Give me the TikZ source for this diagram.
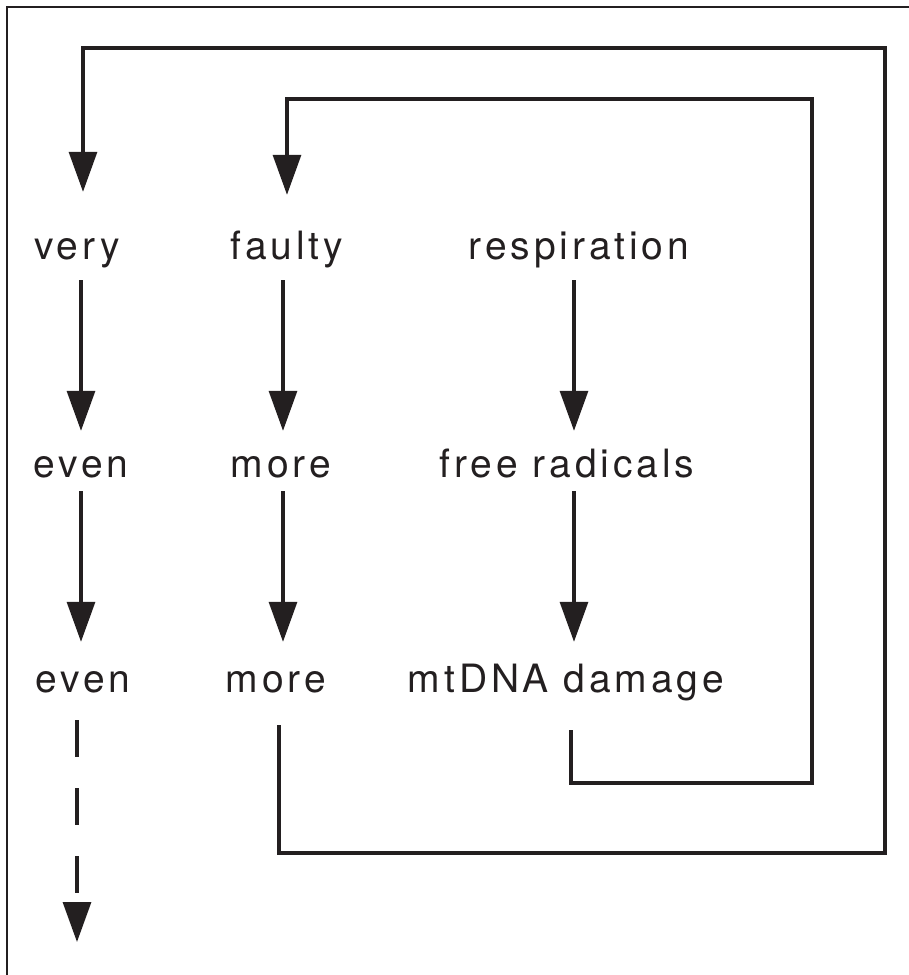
\documentclass[tikz,border=0pt]{standalone}
\usepackage{fontspec}
\setmainfont{TeX Gyre Heros}[LetterSpace=10]
\usetikzlibrary{arrows.meta}
\definecolor{ink}{HTML}{231F20}
\begin{document}
\begin{tikzpicture}[x=1pt,y=-1pt,
  lbl/.style={anchor=base,inner sep=0pt,text height=28pt,text depth=9pt,
    font=\fontsize{39}{44}\selectfont,text=ink},
  tipstyle/.style={-{Triangle[length=40pt,width=28pt]}},
  heavy/.style={draw=ink,line width=3.2pt},
  arrone/.style={heavy,tipstyle,shorten <=12pt,shorten >=18pt},
  arrtwo/.style={heavy,tipstyle,shorten <=5pt,shorten >=22pt},
  frame/.style={draw=ink,line width=2pt}]
\useasboundingbox (0,0) rectangle (909,975);
% frame (left and top edges only)
\draw[frame] (7,975) -- (7,7) -- (909,7);
% column coordinates
\coordinate (xa) at (81,0);
\coordinate (xb) at (283,0);
\coordinate (xc) at (574,0);
\coordinate (xd) at (77,0);
% labels
\node[lbl] (very)  at (77,259)  {very};
\node[lbl] (faulty) at (287,259) {faulty};
\node[lbl] (resp)  at (579,259) {respiration};
\node[lbl] (evenB) at (81,477)  {even};
\node[lbl] (moreB) at (281,477) {more};
\node[lbl] (free)  at (567,477) {free radicals};
\node[lbl] (evenC) at (83,692)  {even};
\node[lbl] (moreC) at (276,692) {more};
\node[lbl] (mtdna) at (566,692) {mtDNA damage};
% straight arrows
\draw[arrone] (very.south -| xa) -- (evenB.north -| xa);
\draw[arrone] (faulty.south -| xb) -- (moreB.north -| xb);
\draw[arrone] (resp.south -| xc) -- (free.north -| xc);
\draw[arrtwo] (evenB.south -| xa) -- (evenC.north -| xa);
\draw[arrtwo] (moreB.south -| xb) -- (moreC.north -| xb);
\draw[arrtwo] (free.south -| xc) -- (mtdna.north -| xc);
% dashed continuation
\coordinate (dend) at (77,942);
\draw[heavy,tipstyle,dash pattern=on 37pt off 31pt,shorten <=19pt]
  (evenC.south -| xd) -- (dend);
% outer feedback loop
\coordinate (ostart) at (279,0);
\coordinate (ocorner) at (885,853);
\coordinate (otop) at (83,48);
\draw[heavy,tipstyle,shorten <=24pt,shorten >=39pt]
  (moreC.south -| ostart) |- (ocorner) |- (otop) -- (very.north -| otop);
% inner feedback loop
\coordinate (istart) at (571,0);
\coordinate (icorner) at (812,783);
\coordinate (itop) at (287,99);
\draw[heavy,tipstyle,shorten <=29pt,shorten >=36pt]
  (mtdna.south -| istart) |- (icorner) |- (itop) -- (faulty.north -| itop);
\end{tikzpicture}
\end{document}
